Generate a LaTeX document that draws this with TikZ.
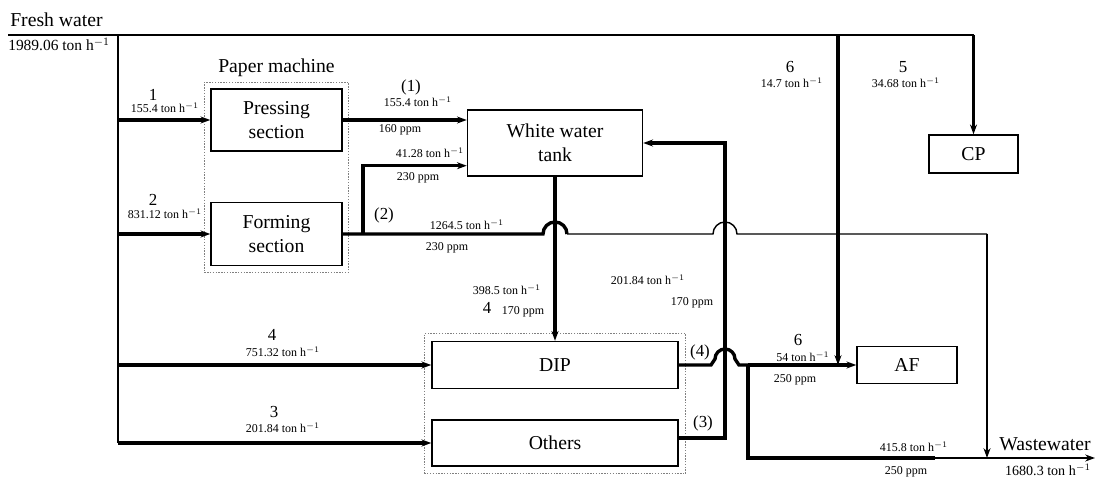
\documentclass[tikz,border=0pt]{standalone}
\usepackage{fontspec}
\setmainfont{Liberation Serif}
\usetikzlibrary{arrows.meta, positioning, fit, backgrounds, calc}
\tikzset{
  unit_box/.style={rectangle, draw=black, line width=1pt, align=center, font=\fontsize{14}{17}\selectfont},
  group_box/.style={draw=gray, densely dotted, line width=1pt, inner sep=0.15cm},
  pipe_thick/.style={line width=2.4pt, black},
  pipe_med/.style={line width=1.6pt, black},
  pipe_thin/.style={line width=1pt, black},
  arrow/.style={-{Stealth[length=7pt,width=5pt]}},
  flow_num/.style={inner sep=0pt, font=\fontsize{12}{14}\selectfont},
  flow_rate/.style={inner sep=0pt, font=\fontsize{8.5}{10}\selectfont},
  big_label/.style={font=\fontsize{14}{16}\selectfont}
}

\begin{document}
\begin{tikzpicture}[x=0.025cm, y=0.025cm]
  \useasboundingbox (0,0) rectangle (1098,480);

  % process units
  \node[unit_box, minimum width=3.275cm, minimum height=1.55cm] (pressing) at (276.5,360) {Pressing\\section};
  \node[unit_box, minimum width=3.275cm, minimum height=1.575cm] (forming) at (276.5,246) {Forming\\section};
  \node[unit_box, minimum width=4.375cm, minimum height=1.65cm] (wwt) at (555,337) {White water\\tank};
  \node[unit_box, minimum width=6.15cm, minimum height=1.175cm] (dip) at (555,115) {DIP};
  \node[unit_box, minimum width=6.15cm, minimum height=1.15cm] (others) at (555,37) {Others};
  \node[unit_box, minimum width=2.225cm, minimum height=0.95cm] (cp) at (973.5,326) {CP};
  \node[unit_box, minimum width=2.5cm, minimum height=0.925cm] (af) at (907,115) {AF};

  \begin{scope}[on background layer]
    \node[group_box, fit=(pressing)(forming)] (paper_box) {};
    \node[group_box, inner sep=0.175cm, fit=(dip)(others)] (dip_box) {};
  \end{scope}
  \node[big_label, above=0pt of paper_box] (paper_label) {Paper machine};

  % pipe corners
  \coordinate (fw) at (8,445);
  \coordinate (hdr) at (118,445);
  \coordinate (t6) at (838,445);
  \coordinate (sp) at (363,0);
  \coordinate (lp) at (725,0);
  \coordinate (jn) at (748,115);
  \coordinate (ww_drop) at (987,22);
  \coordinate (ww_mid) at (935,22);
  \coordinate (ww_end) at (1095,22);

  % fresh water
  \draw[pipe_thin] (fw) -- (fw -| cp.north);
  \draw[pipe_med, arrow] (fw -| cp.north) -- (cp.north);
  \draw[pipe_thin] (hdr) -- (others.west -| hdr);
  \draw[pipe_thick, arrow] (pressing.west -| hdr) -- (pressing.west);
  \draw[pipe_thick, arrow] (forming.west -| hdr) -- (forming.west);
  \draw[pipe_thick, arrow] (dip.west -| hdr) -- (dip.west);
  \draw[pipe_thick, arrow] (others.west -| hdr) -- (others.west);
  \draw[pipe_thick, arrow] (t6) -- (t6 |- af.west);

  % paper machine
  \draw[pipe_thick, arrow] (pressing.east) -- (pressing.east -| wwt.west);
  \draw[pipe_thick, arrow] (forming.east -| sp) |- ([yshift=0.275cm]wwt.south west);
  \draw[pipe_thick] (forming.east) -- ($(forming.east -| wwt.south)+(-12,0)$)
    arc[start angle=180, end angle=0, radius=0.3cm];
  \draw[pipe_thin] ($(forming.east -| wwt.south)+(12,0)$) -- ($(forming.east -| lp)+(-12,0)$)
    arc[start angle=180, end angle=0, radius=0.3cm] -- (ww_drop |- forming.east);
  \draw[pipe_thin, arrow] (ww_drop |- forming.east) -- (ww_drop);

  % white water loop
  \draw[pipe_thick, arrow] (wwt.south) -- (dip.north);
  \draw[pipe_thick, arrow] ([yshift=0.125cm]others.east) -| (lp |- wwt.east) -- (wwt.east);
  \draw[pipe_thick] (dip.east) -- ($(dip.east -| lp)+(-14,0)$) -- ++(4,6)
    arc[start angle=180, end angle=0, radius=0.25cm] -- ++(4,-6) -- (jn);
  \draw[pipe_thick, arrow] (jn) -- (af.west);
  \draw[pipe_thick] (jn) |- (ww_mid);
  \draw[pipe_thin, arrow] (ww_mid) -- (ww_end);

  % labels
  \node[big_label, anchor=base west, inner sep=0pt] (fw_label) at (10,453) {Fresh water};
  \node[anchor=base west, inner sep=0pt, font=\fontsize{11}{13}\selectfont] (fw_rate) at (8,429) {1989.06 ton h$^{-1}$};
  \node[flow_num] (n1) at (153,385) {1};
  \node[flow_rate] (r1) at (165,372) {155.4 ton h$^{-1}$};
  \node[flow_num] (n2) at (153,280) {2};
  \node[flow_rate] (r2) at (165,266) {831.12 ton h$^{-1}$};
  \node[flow_num] (n4) at (272,145) {4};
  \node[flow_rate] (r4) at (283,128) {751.32 ton h$^{-1}$};
  \node[flow_num] (n3) at (274,68) {3};
  \node[flow_rate] (r3) at (283,52) {201.84 ton h$^{-1}$};
  \node[flow_num] (p1) at (411,393) {(1)};
  \node[flow_rate] (p1r) at (418,378) {155.4 ton h$^{-1}$};
  \node[flow_rate] (p1c) at (400,350) {160 ppm};
  \node[flow_rate] (b2r) at (430,327) {41.28 ton h$^{-1}$};
  \node[flow_rate] (b2c) at (418,302) {230 ppm};
  \node[flow_num] (p2) at (384,265) {(2)};
  \node[flow_rate] (p2r) at (467,255) {1264.5 ton h$^{-1}$};
  \node[flow_rate] (p2c) at (447,232) {230 ppm};
  \node[flow_rate] (w4r) at (507,190) {398.5 ton h$^{-1}$};
  \node[flow_num] (w4) at (487,172) {4};
  \node[flow_rate] (w4c) at (523,168) {170 ppm};
  \node[flow_rate] (p3r) at (648,200) {201.84 ton h$^{-1}$};
  \node[flow_rate] (p3c) at (692,177) {170 ppm};
  \node[flow_num] (p4) at (700,128) {(4)};
  \node[flow_num] (p3) at (703,57) {(3)};
  \node[flow_num] (n6b) at (798,140) {6};
  \node[flow_rate] (r6b) at (803,123) {54 ton h$^{-1}$};
  \node[flow_rate] (c6b) at (795,100) {250 ppm};
  \node[flow_num] (n6) at (790,413) {6};
  \node[flow_rate] (r6) at (792,397) {14.7 ton h$^{-1}$};
  \node[flow_num] (n5) at (903,413) {5};
  \node[flow_rate] (r5) at (906,397) {34.68 ton h$^{-1}$};
  \node[flow_rate] (wr) at (914,33) {415.8 ton h$^{-1}$};
  \node[flow_rate] (wc) at (906,8) {250 ppm};
  \node[big_label, anchor=base, inner sep=0pt] (ww_label) at (1045,29) {Wastewater};
  \node[inner sep=0pt, font=\fontsize{10}{12}\selectfont] (ww_rate) at (1048,10) {1680.3 ton h$^{-1}$};
\end{tikzpicture}
\end{document}
